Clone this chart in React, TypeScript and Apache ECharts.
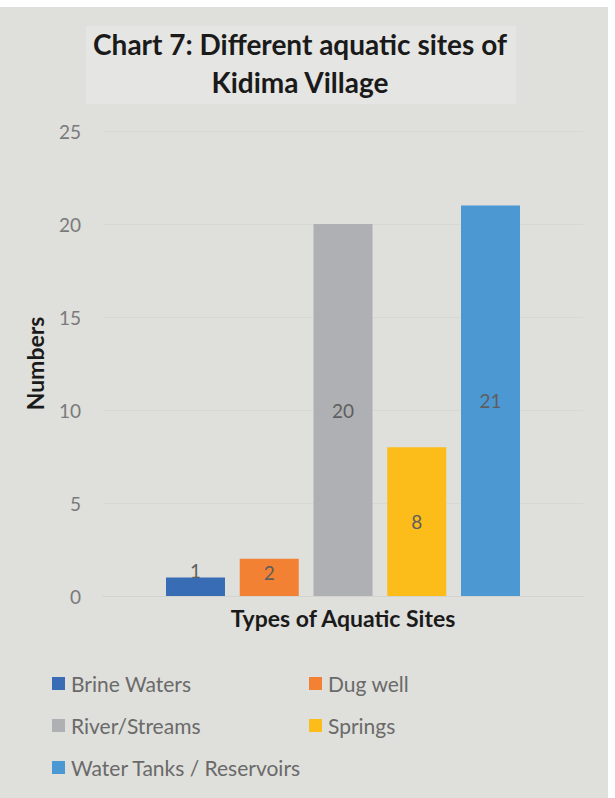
import React, { useEffect, useRef } from "react";
import * as echarts from "echarts";

const categories = ["Types of Aquatic Sites"];
const seriesNames = ["Brine Waters", "Dug well", "River/Streams", "Springs", "Water Tanks / Reservoirs"];
const seriesValues = [1, 2, 20, 8, 21];
const seriesColors = ["#386cb5", "#f28133", "#afb0b3", "#fcbd1a", "#4b98d3"];
const yTicks = [0, 5, 10, 15, 20, 25];

const FONT = "Lato, 'Open Sans', sans-serif";

export default function App() {
  const ref = useRef<HTMLDivElement>(null);
  useEffect(() => {
    document.body.style.margin = "0";
    const chart = echarts.init(ref.current!, null, { renderer: "svg" });
    const legendPos = [
      { left: 52, top: 673 },
      { left: 309, top: 673 },
      { left: 52, top: 715 },
      { left: 309, top: 715 },
      { left: 52, top: 757 },
    ];
    chart.setOption({
      animation: false,
      backgroundColor: "#ffffff",
      textStyle: { fontFamily: FONT },
      graphic: [
        { type: "rect", shape: { x: 0, y: 7, width: 608, height: 791 }, style: { fill: "#dfdfdb" }, z: -10 },
        { type: "rect", shape: { x: 86, y: 26, width: 430, height: 78 }, style: { fill: "#e5e5e3" }, z: -9 },
        {
          type: "text",
          x: 300,
          y: 63,
          style: {
            text: "Chart 7: Different aquatic sites of\nKidima Village",
            fill: "#1a1a1a",
            font: `bold 28px ${FONT}`,
            align: "center",
            verticalAlign: "middle",
            lineHeight: 38,
          },
        },
      ],
      grid: { left: 103, right: 32, top: 131, bottom: 798 - 596 },
      xAxis: {
        type: "category",
        data: categories,
        axisLine: { show: true, lineStyle: { color: "#d2d2cf", width: 1 } },
        axisTick: { show: false },
        axisLabel: { show: false },
        name: categories[0],
        nameLocation: "middle",
        nameGap: 10,
        nameTextStyle: { fontFamily: FONT, fontSize: 23, fontWeight: "bold", color: "#1a1a1a" },
      },
      yAxis: {
        type: "value",
        min: yTicks[0],
        max: yTicks[yTicks.length - 1],
        interval: 5,
        axisLine: { show: false },
        axisTick: { show: false },
        splitLine: { lineStyle: { color: "#d7d7d4", width: 1 } },
        axisLabel: { fontFamily: FONT, fontSize: 19, color: "#7a7a7a", margin: 22 },
        name: "Numbers",
        nameLocation: "middle",
        nameGap: 57,
        nameRotate: 90,
        nameTextStyle: { fontFamily: FONT, fontSize: 23, fontWeight: "bold", color: "#1a1a1a" },
      },
      legend: seriesNames.map((n, i) => ({
        data: [n],
        left: legendPos[i].left,
        top: legendPos[i].top,
        icon: "rect",
        itemWidth: 13,
        itemHeight: 13,
        itemGap: 6,
        textStyle: { fontFamily: FONT, fontSize: 21, color: "#6a6a6a", padding: [0, 0, 0, 1] },
        padding: 0,
      })),
      series: seriesNames.map((n, i) => ({
        type: "bar",
        name: n,
        data: [seriesValues[i]],
        barWidth: 59,
        barGap: "25%",
        itemStyle: { color: seriesColors[i] },
        label: {
          show: true,
          position: "inside",
          offset: seriesValues[i] < 3 ? [0, seriesValues[i] < 2 ? -16 : -5] : [0, 0],
          fontFamily: FONT,
          fontSize: 19,
          color: "#5e5e5e",
        },
      })),
    });
    return () => chart.dispose();
  }, []);
  return <div ref={ref} style={{ position: "absolute", left: 0, top: 0, width: 615, height: 798 }} />;
}
